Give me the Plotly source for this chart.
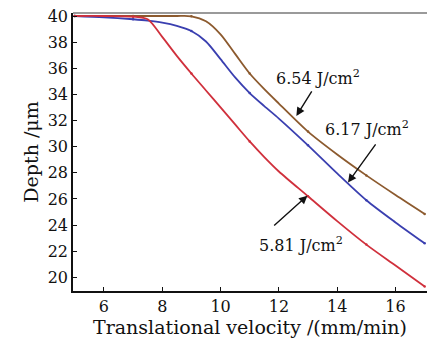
import plotly.graph_objects as go

# Translational velocity (mm/min)
velocity = [5, 6, 7, 7.5, 8, 8.5, 9, 9.5, 10, 10.5, 11, 11.5, 12, 13, 14, 15, 16, 17]
# Depth (um) for each fluence
depth_654 = [40.0, 40.0, 40.0, 40.0, 40.0, 40.0, 39.98, 39.6, 38.6, 37.1, 35.6, 34.4, 33.3, 31.15, 29.4, 27.8, 26.3, 24.85]
depth_617 = [40.0, 39.9, 39.75, 39.65, 39.5, 39.25, 38.85, 38.05, 36.7, 35.3, 34.1, 33.1, 32.15, 30.1, 27.95, 25.9, 24.2, 22.6]
depth_581 = [40.0, 40.0, 39.95, 39.75, 38.4, 36.95, 35.6, 34.3, 33.0, 31.7, 30.4, 29.2, 28.1, 26.2, 24.3, 22.5, 20.9, 19.3]

marker_x = [5, 7, 9, 11, 13, 15, 17]

series = [
    ("6.54 J/cm²", depth_654, "#8c5a2e"),
    ("6.17 J/cm²", depth_617, "#3a3fb0"),
    ("5.81 J/cm²", depth_581, "#d0303c"),
]

fig = go.Figure()
for name, ys, col in series:
    fig.add_trace(go.Scatter(x=velocity, y=ys, mode="lines", name=name,
                             line=dict(color=col, width=1.8, shape="spline", smoothing=0.8),
                             showlegend=False))
    mx = [v for v in velocity if v in marker_x]
    my = [ys[velocity.index(v)] for v in mx]
    fig.add_trace(go.Scatter(x=mx, y=my, mode="markers", marker=dict(color=col, size=2.5),
                             showlegend=False))

font_family = "DejaVu Serif"

# label text, arrow tip (data), text centre (px), arrow start (px)
annots = [
    ("6.54 J/cm<sup>2</sup>", 12.6, 32.35, 318, 78, 313, 90),
    ("6.17 J/cm<sup>2</sup>", 14.37, 27.25, 367, 129, 377, 143),
    ("5.81 J/cm<sup>2</sup>", 12.98, 26.25, 301, 245, 273, 227),
]

def px_to_x(px):
    return 6 + (px - 104.3) / 29.15

def px_to_y(py):
    return 40 - (py - 16) / 13.07

for text, tipx, tipy, tx, ty, sx, sy in annots:
    fig.add_annotation(x=px_to_x(tx), y=px_to_y(ty), text=text, showarrow=False,
                       font=dict(family=font_family, size=16, color="#111"))
    fig.add_annotation(x=tipx, y=tipy, ax=px_to_x(sx), ay=px_to_y(sy), axref="x", ayref="y",
                       text="", showarrow=True, arrowhead=2, arrowsize=1.2, arrowwidth=1.4,
                       arrowcolor="#111")

fig.add_shape(type="line", xref="paper", yref="paper", x0=0, x1=1, y0=1, y1=1,
              line=dict(color="#9a9a9a", width=2))

fig.update_layout(
    width=427, height=338,
    margin=dict(l=73, r=0, t=13, b=47),
    paper_bgcolor="white", plot_bgcolor="white",
    font=dict(family=font_family, size=16, color="#111"),
)
fig.update_xaxes(range=[4.94, 17.08], tickvals=[6, 8, 10, 12, 14, 16],
                 ticks="inside", ticklen=4, tickcolor="#111", showline=True, linecolor="#111",
                 linewidth=1.5, showgrid=False, zeroline=False,
                 title=dict(text="Translational velocity /(mm/min)", standoff=2))
fig.update_yaxes(range=[18.95, 40.23], tickvals=list(range(20, 41, 2)),
                 ticks="inside", ticklen=4, tickcolor="#111", showline=True, linecolor="#111",
                 linewidth=1.5, showgrid=False, zeroline=False,
                 title=dict(text="Depth /μm", standoff=4))

fig.write_html("out.html", config={"responsive": False, "displayModeBar": False},
               post_script="document.body.style.margin='0';document.body.style.overflow='hidden';")
